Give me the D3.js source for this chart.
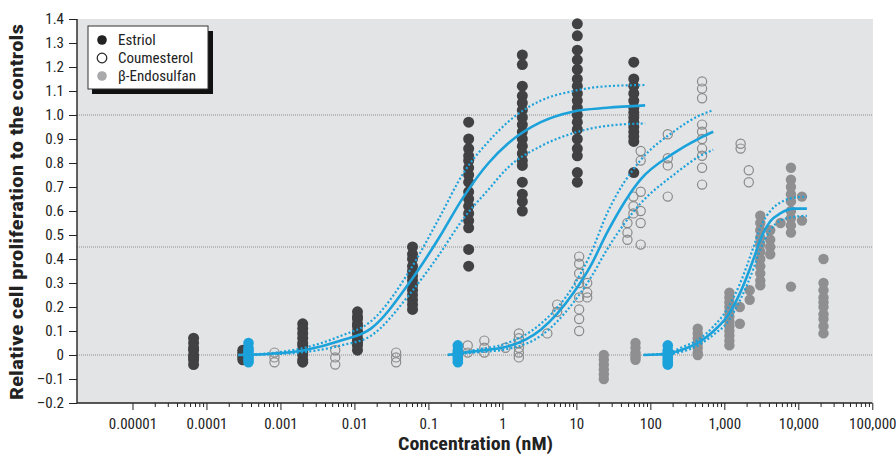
<!DOCTYPE html>
<html><head><meta charset="utf-8">
<script src="https://cdn.jsdelivr.net/npm/d3@7"></script>
<style>
html,body{margin:0;padding:0;background:#fff;}
svg text{font-family:"Liberation Sans Narrow","Arial Narrow","Roboto Condensed","Liberation Sans",sans-serif;}
</style></head>
<body><svg id="c" width="896" height="455"></svg>
<script>
// ---- data (concentration in nM, relative proliferation) ----
const estriolConc = [6.7e-5, 3.1e-4, 2.0e-3, 0.011, 0.061, 0.35, 1.86, 10.3, 59.7];
const estriolValues = [
  [0.07, 0.05, 0.03, 0.02, 0.0, -0.01, -0.02, -0.04],
  [0.02, 0.01, 0.0, -0.01, -0.02],
  [0.13, 0.11, 0.09, 0.07, 0.05, 0.04, 0.02, 0.01, 0.0, -0.02, -0.03],
  [0.18, 0.16, 0.15, 0.13, 0.12, 0.10, 0.09, 0.07, 0.06, 0.05, 0.04, 0.02],
  [0.45, 0.42, 0.40, 0.37, 0.35, 0.33, 0.31, 0.29, 0.27, 0.25, 0.23, 0.21, 0.19],
  [0.97, 0.90, 0.86, 0.83, 0.81, 0.78, 0.75, 0.72, 0.68, 0.65, 0.62, 0.59, 0.56, 0.53, 0.44, 0.37],
  [1.25, 1.21, 1.12, 1.08, 1.05, 1.02, 0.99, 0.96, 0.93, 0.90, 0.87, 0.84, 0.81, 0.79, 0.72, 0.67, 0.64, 0.60],
  [1.38, 1.33, 1.27, 1.23, 1.19, 1.15, 1.12, 1.09, 1.06, 1.03, 1.00, 0.97, 0.94, 0.90, 0.86, 0.83, 0.76, 0.72],
  [1.22, 1.15, 1.12, 1.09, 1.06, 1.03, 1.01, 0.99, 0.97, 0.95, 0.93, 0.91, 0.89, 0.76]
];
const coumesterolConc = [8.3e-4, 0.0055, 0.0366, 0.34, 0.57, 1.1, 1.67, 4.05, 5.5, 10.9, 14, 49, 59, 74, 172, 500, 1660, 2140];
const coumesterolValues = [
  [0.01, -0.01, -0.03],
  [0.02, -0.01, -0.04],
  [0.01, -0.01, -0.03],
  [0.04, 0.01],
  [0.06, 0.03, 0.01],
  [0.03],
  [0.09, 0.07, 0.05, 0.03, 0.01, -0.01],
  [0.09],
  [0.21, 0.18],
  [0.41, 0.38, 0.34, 0.30, 0.24, 0.19, 0.15, 0.10],
  [0.30, 0.26, 0.24],
  [0.55, 0.51, 0.48],
  [0.66, 0.62, 0.59],
  [0.85, 0.81, 0.68, 0.60, 0.55, 0.46],
  [0.92, 0.82, 0.79, 0.66],
  [1.14, 1.11, 1.07, 0.96, 0.93, 0.90, 0.86, 0.83, 0.78, 0.71],
  [0.88, 0.86],
  [0.77, 0.72]
];
const endosulfanConc = [23.5, 63, 437, 1170, 1620, 2200, 3060, 4170, 5750, 7950, 11200, 21900];
const endosulfanValues = [
  [0.0, -0.02, -0.04, -0.06, -0.08, -0.10],
  [0.05, 0.03, 0.01, 0.0, -0.01, -0.02],
  [0.11, 0.09, 0.07, 0.05, 0.03, 0.01, 0.0],
  [0.26, 0.24, 0.22, 0.20, 0.18, 0.16, 0.14, 0.12, 0.10, 0.08, 0.06, 0.04],
  [0.20, 0.13],
  [0.27, 0.23],
  [0.58, 0.55, 0.52, 0.49, 0.46, 0.43, 0.40, 0.37, 0.34, 0.31, 0.29],
  [0.52, 0.48, 0.45, 0.42],
  [0.55],
  [0.78, 0.73, 0.70, 0.67, 0.64, 0.60, 0.57, 0.54, 0.51, 0.285],
  [0.66, 0.56],
  [0.40, 0.30, 0.27, 0.24, 0.22, 0.20, 0.17, 0.15, 0.12, 0.09]
];
const controlConc = [3.7e-4, 0.25, 172];
const controlValues = [
  [0.05, 0.03, 0.02, 0.01, 0.0, -0.01, -0.02, -0.03],
  [0.04, 0.02, 0.01, 0.0, -0.01, -0.02, -0.03],
  [0.04, 0.02, 0.01, 0.0, -0.01, -0.02, -0.03, -0.04]
];
// fitted curves and confidence bands
const estriolFitConc = [2.67e-4, 7.4e-4, 2.1e-3, 6.6e-3, 0.0167, 0.058, 0.134, 0.30, 0.65, 1.18, 3.3, 9.2, 26, 85];
const estriolFit   = [0.0, 0.005, 0.02, 0.06, 0.11, 0.31, 0.48, 0.66, 0.80, 0.88, 0.97, 1.015, 1.03, 1.04];
const estriolUpper = [0.0, 0.008, 0.03, 0.08, 0.14, 0.36, 0.56, 0.76, 0.89, 0.97, 1.06, 1.10, 1.12, 1.125];
const estriolLower = [0.0, 0.003, 0.012, 0.04, 0.08, 0.26, 0.41, 0.57, 0.69, 0.78, 0.87, 0.925, 0.955, 0.965];
const coumesterolFitConc = [0.183, 0.41, 1.17, 3.3, 9.2, 15.5, 26, 73, 205, 475, 708];
const coumesterolFit   = [0.0, 0.015, 0.035, 0.105, 0.26, 0.37, 0.51, 0.73, 0.84, 0.905, 0.93];
const coumesterolUpper = [0.0, 0.02, 0.05, 0.13, 0.29, 0.42, 0.59, 0.81, 0.93, 1.0, 1.02];
const coumesterolLower = [0.0, 0.01, 0.025, 0.08, 0.22, 0.32, 0.44, 0.63, 0.75, 0.83, 0.855];
const endosulfanFitConc = [81, 170, 257, 474, 718, 1090, 1640, 2480, 3060, 4180, 5700, 8610, 13060];
const endosulfanFit   = [0.0, 0.005, 0.02, 0.057, 0.10, 0.16, 0.26, 0.40, 0.48, 0.557, 0.59, 0.61, 0.61];
const endosulfanUpper = [0.0, 0.008, 0.03, 0.07, 0.12, 0.19, 0.30, 0.45, 0.53, 0.60, 0.635, 0.655, 0.66];
const endosulfanLower = [0.0, 0.003, 0.012, 0.045, 0.085, 0.135, 0.23, 0.36, 0.44, 0.52, 0.56, 0.575, 0.58];
const referenceLines = [1.0, 0.45, 0];
const xTickValues = [1e-5, 1e-4, 1e-3, 1e-2, 1e-1, 1, 10, 100, 1000, 10000, 100000];
const xTickLabels = ["0.00001", "0.0001", "0.001", "0.01", "0.1", "1", "10", "100", "1,000", "10,000", "100,000"];
const yTickValues = [-0.2, -0.1, 0, 0.1, 0.2, 0.3, 0.4, 0.5, 0.6, 0.7, 0.8, 0.9, 1.0, 1.1, 1.2, 1.3, 1.4];
const legendLabels = ["Estriol", "Coumesterol", "β-Endosulfan"];

// ---- drawing ----
const svg = d3.select("#c");
const L = 77, R = 872.3, T = 19, B = 403;
const x = d3.scaleLog().domain([Math.pow(10, -5.75), 1e5]).range([L, R]);
const y = d3.scaleLinear().domain([-0.2, 1.4]).range([B, T]);
const BLUE = "#1ca2db";

svg.append("rect").attr("x", L).attr("y", T).attr("width", 873 - L).attr("height", B - T).attr("fill", "#e3e4e6");

svg.selectAll("line.ref").data(referenceLines).join("line")
  .attr("x1", L).attr("x2", 873).attr("y1", d => y(d)).attr("y2", d => y(d))
  .attr("stroke", "#8e8e8e").attr("stroke-width", 1).attr("stroke-dasharray", "1,1");

function flatten(conc, vals) {
  const out = [];
  conc.forEach((c, i) => vals[i].forEach(v => out.push([c, v])));
  return out;
}
const gPts = svg.append("g");
gPts.selectAll("circle.es").data(flatten(estriolConc, estriolValues)).join("circle")
  .attr("cx", d => x(d[0])).attr("cy", d => y(d[1])).attr("r", 5.5).attr("fill", "#414143");
gPts.selectAll("circle.en").data(flatten(endosulfanConc, endosulfanValues)).join("circle")
  .attr("cx", d => x(d[0])).attr("cy", d => y(d[1])).attr("r", 5.2).attr("fill", "#8f8f91");
gPts.selectAll("circle.co").data(flatten(coumesterolConc, coumesterolValues)).join("circle")
  .attr("cx", d => x(d[0])).attr("cy", d => y(d[1])).attr("r", 4.6)
  .attr("fill", "none").attr("stroke", "#8a8a8a").attr("stroke-width", 1.2);

const line = d3.line().x(d => x(d[0])).y(d => y(d[1])).curve(d3.curveMonotoneX);
function curve(conc, vals, dotted) {
  svg.append("path").datum(conc.map((c, i) => [c, vals[i]]))
    .attr("d", line).attr("fill", "none").attr("stroke", BLUE)
    .attr("stroke-width", dotted ? 2.2 : 2.6)
    .attr("stroke-dasharray", dotted ? "2,2.2" : null);
}
[[estriolFitConc, estriolFit, estriolUpper, estriolLower],
 [coumesterolFitConc, coumesterolFit, coumesterolUpper, coumesterolLower],
 [endosulfanFitConc, endosulfanFit, endosulfanUpper, endosulfanLower]].forEach(s => {
  curve(s[0], s[2], true); curve(s[0], s[3], true); curve(s[0], s[1], false);
});

svg.append("g").selectAll("circle").data(flatten(controlConc, controlValues)).join("circle")
  .attr("cx", d => x(d[0])).attr("cy", d => y(d[1])).attr("r", 5.3).attr("fill", BLUE);

// axes
const minor = [];
for (let e = -5; e < 5; e++) for (let m = 2; m <= 9; m++) minor.push(m * Math.pow(10, e));
const gx = svg.append("g").attr("transform", `translate(0,${B})`);
gx.call(d3.axisBottom(x).tickValues(minor).tickSize(4).tickFormat(""));
gx.call(g => g.append("g").call(d3.axisBottom(x).tickValues(xTickValues).tickSize(7)
  .tickFormat((d, i) => xTickLabels[i])));
gx.selectAll(".domain").remove();
gx.append("line").attr("x1", L).attr("x2", R).attr("stroke", "#222").attr("stroke-width", 1.4);
gx.selectAll("line").attr("stroke", "#222");
gx.selectAll("text").attr("font-size", 15).attr("fill", "#222").attr("dy", "1.05em");

const gy = svg.append("g").attr("transform", `translate(${L},0)`);
gy.call(d3.axisLeft(y).tickValues(yTickValues).tickSize(8).tickPadding(5)
  .tickFormat(v => Math.abs(v) < 1e-9 ? "0" : (v < 0 ? "–" + Math.abs(v).toFixed(1) : v.toFixed(1))));
gy.select(".domain").remove();
gy.append("line").attr("y1", T).attr("y2", B).attr("stroke", "#222").attr("stroke-width", 1.4);
gy.selectAll("line").attr("stroke", "#222");
gy.selectAll("text").attr("font-size", 15).attr("fill", "#222");

svg.append("text").attr("x", 398).attr("y", 450)
  .attr("font-size", 18).attr("font-weight", "bold").attr("fill", "#222")
  .attr("textLength", 155).attr("lengthAdjust", "spacingAndGlyphs").text("Concentration (nM)");
svg.append("text").attr("transform", "translate(23,400) rotate(-90)")
  .attr("font-size", 17.5).attr("font-weight", "bold").attr("fill", "#222")
  .attr("textLength", 376).attr("lengthAdjust", "spacingAndGlyphs")
  .text("Relative cell proliferation to the controls");

// legend
const lg = svg.append("g");
lg.append("rect").attr("x", 92).attr("y", 31).attr("width", 121).attr("height", 63).attr("fill", "#111");
lg.append("rect").attr("x", 88).attr("y", 26).attr("width", 120).attr("height", 63)
  .attr("fill", "#fff").attr("stroke", "#333").attr("stroke-width", 1);
const lgStyles = [{fill: "#222", stroke: "none"}, {fill: "#fff", stroke: "#222"}, {fill: "#a9a9ab", stroke: "none"}];
legendLabels.forEach((t, i) => {
  const cy = 40 + i * 18;
  lg.append("circle").attr("cx", 102).attr("cy", cy).attr("r", 4.8)
    .attr("fill", lgStyles[i].fill).attr("stroke", lgStyles[i].stroke).attr("stroke-width", 1.2);
  lg.append("text").attr("x", 118).attr("y", cy + 5).attr("font-size", 15).attr("fill", "#222").text(t);
});
</script></body></html>
